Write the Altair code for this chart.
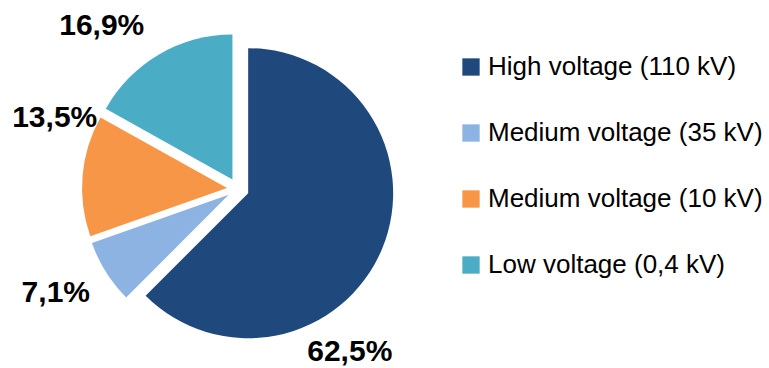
import math
import altair as alt
import pandas as pd

categories = ["High voltage (110 kV)", "Medium voltage (35 kV)",
              "Medium voltage (10 kV)", "Low voltage (0,4 kV)"]
values = [62.5, 7.1, 13.5, 16.9]
labels = ["62,5%", "7,1%", "13,5%", "16,9%"]
colors = ["#1F497D", "#8DB3E2", "#F79646", "#4BACC6"]

df = pd.DataFrame({"category": categories, "value": values, "label": labels,
                   "order": list(range(len(categories)))})

FONT = "Liberation Sans, Arial, sans-serif"
total = sum(values)
explode = 11
R = 145
label_r = 200
# fine label nudges (style), per slice
nudges = [(-73, 86), (-13, -3), (16, -54), (-35, 9)]

base = alt.Chart(df).transform_window(
    cum="sum(value)", sort=[alt.SortField("order")]
).transform_calculate(
    start="datum.cum - datum.value",
    mid="datum.cum - datum.value / 2",
)

theta_scale = alt.Scale(domain=[0, total])
color_enc = alt.Color(
    "category:N",
    scale=alt.Scale(domain=categories, range=colors),
    sort=categories,
    legend=alt.Legend(
        title=None, orient="none", legendX=458, legendY=44,
        symbolType="square", symbolSize=300, symbolStrokeWidth=0,
        labelFont=FONT, labelFontSize=26, labelColor="#000000",
        rowPadding=40, labelOffset=4, labelLimit=400,
    ),
)

layers = []
cum = 0
for i, (cat, v) in enumerate(zip(categories, values)):
    mid = (cum + v / 2) / total * 2 * math.pi
    cum += v
    dx = explode * math.sin(mid)
    dy = -explode * math.cos(mid)
    arc = base.mark_arc(outerRadius=R, xOffset=dx, yOffset=dy).encode(
        theta=alt.Theta("start:Q", scale=theta_scale),
        theta2="cum:Q",
        color=color_enc,
    ).transform_filter(alt.datum.category == cat)
    layers.append(arc)

for i, cat in enumerate(categories):
    ndx, ndy = nudges[i]
    txt = base.mark_text(radius=label_r, font=FONT, fontSize=30,
                         fontWeight="bold", color="#000000",
                         dx=ndx, dy=ndy, baseline="middle", align="center").encode(
        theta=alt.Theta("mid:Q", scale=theta_scale, stack=None),
        text="label:N",
    ).transform_filter(alt.datum.category == cat)
    layers.append(txt)

chart = alt.layer(*layers).properties(
    width=476, height=358,
    padding={"left": 0, "top": 10, "right": 293, "bottom": 0},
    autosize="none",
).configure_view(stroke=None).configure(background="white")

chart.save("out.html", embed_options={"renderer": "svg", "actions": False})
